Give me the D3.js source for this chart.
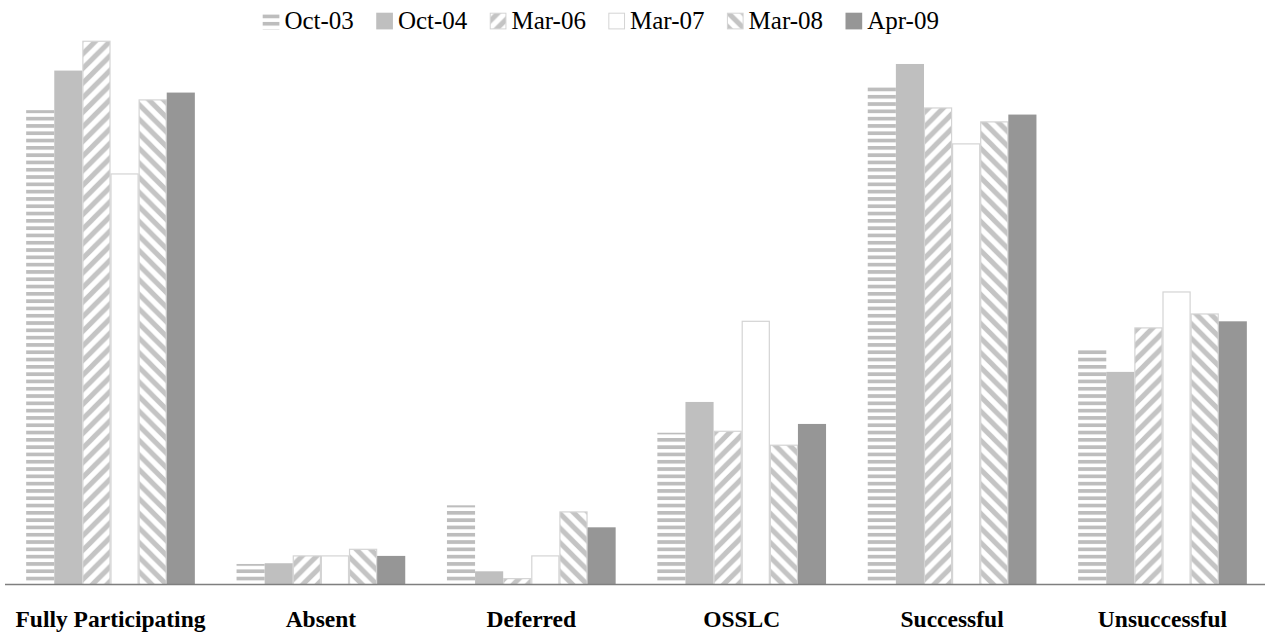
<!DOCTYPE html>
<html>
<head>
<meta charset="utf-8">
<script src="https://cdn.jsdelivr.net/npm/d3@7"></script>
<style>
  html, body { margin: 0; padding: 0; background: #ffffff; }
  svg { display: block; }
</style>
</head>
<body>
<svg id="chart" width="1265" height="632"></svg>
<script>
// Outcome categories and survey rounds (values are percentages)
const categories = ["Fully Participating", "Absent", "Deferred", "OSSLC", "Successful", "Unsuccessful"];
const seriesNames = ["Oct-03", "Oct-04", "Mar-06", "Mar-07", "Mar-08", "Apr-09"];

const oct03 = [64.7, 2.8, 10.8, 20.7, 67.9, 32.1];
const oct04 = [70.1, 2.9, 1.8, 24.9, 71.0, 29.0];
const mar06 = [74.1, 3.9, 0.8, 20.9, 65.0, 35.0];
const mar07 = [56.0, 3.9, 3.9, 35.9, 60.1, 39.9];
const mar08 = [66.1, 4.8, 9.9, 19.0, 63.1, 36.9];
const apr09 = [67.1, 3.9, 7.8, 21.9, 64.1, 35.9];

const seriesValues = [oct03, oct04, mar06, mar07, mar08, apr09];

const FONT = "'Liberation Serif', 'Times New Roman', serif";
const svg = d3.select("#chart");
const W = 1265, baseY = 584.5;

// ---- fill patterns ----
const defs = svg.append("defs");

const hz = defs.append("pattern").attr("id", "p-hstripe")
  .attr("patternUnits", "userSpaceOnUse").attr("width", 8).attr("height", 7.3);
hz.append("rect").attr("width", 8).attr("height", 7.3).attr("fill", "#ffffff");
hz.append("rect").attr("width", 8).attr("height", 3.7).attr("fill", "#bdbdbd");

function diag(id, up) {
  const s = 14.6;
  const p = defs.append("pattern").attr("id", id)
    .attr("patternUnits", "userSpaceOnUse").attr("width", s).attr("height", s);
  p.append("rect").attr("width", s).attr("height", s).attr("fill", "#ffffff");
  const d = up
    ? `M0,${s} L${s},0 M${-s/2},${s/2} L${s/2},${-s/2} M${s/2},${s*1.5} L${s*1.5},${s/2}`
    : `M0,0 L${s},${s} M${-s/2},${s/2} L${s/2},${s*1.5} M${s/2},${-s/2} L${s*1.5},${s/2}`;
  p.append("path").attr("d", d).attr("stroke", "#c4c4c4").attr("stroke-width", 5).attr("fill", "none");
}
diag("p-up", true);
diag("p-down", false);

const fills = ["url(#p-hstripe)", "#bfbfbf", "url(#p-up)", "#ffffff", "url(#p-down)", "#969696"];
const strokes = ["none", "none", "#d4d4d4", "#d4d4d4", "#d4d4d4", "none"];

// ---- scales ----
const x0 = d3.scaleBand().domain(categories).range([5.3, 1267.7]);
const x1 = d3.scaleBand().domain(seriesNames).range([20.85, 189.55]);
const y = d3.scaleLinear().domain([0, 80]).range([baseY, -2]);

// ---- bars ----
const groups = svg.append("g").selectAll("g")
  .data(categories)
  .join("g")
  .attr("transform", d => `translate(${x0(d)},0)`);

groups.selectAll("rect")
  .data((c, ci) => seriesNames.map((s, si) => ({ s, si, v: seriesValues[si][ci] })))
  .join("rect")
  .attr("x", d => x1(d.s) + (strokes[d.si] === "none" ? 0 : 0.5))
  .attr("width", d => x1.bandwidth() - (strokes[d.si] === "none" ? 0 : 1))
  .attr("y", d => y(d.v))
  .attr("height", d => baseY - y(d.v))
  .attr("fill", d => fills[d.si])
  .attr("stroke", d => strokes[d.si])
  .attr("stroke-width", 1.2);

// ---- category axis ----
svg.append("line")
  .attr("x1", 5).attr("x2", W)
  .attr("y1", baseY).attr("y2", baseY)
  .attr("stroke", "#7f7f7f").attr("stroke-width", 1.4);

svg.append("g").selectAll("text")
  .data(categories)
  .join("text")
  .attr("x", d => x0(d) + x0.bandwidth() / 2)
  .attr("y", 626.5)
  .attr("text-anchor", "middle")
  .attr("font-family", FONT)
  .attr("font-weight", "bold")
  .attr("font-size", 23.5)
  .attr("fill", "#000")
  .text(d => d);

// ---- legend ----
const legend = svg.append("g");
let lx = 262.7;
const sw = 16.7, swTop = 12.7;
seriesNames.forEach((name, i) => {
  legend.append("rect")
    .attr("x", lx + (strokes[i] === "none" ? 0 : 0.5))
    .attr("y", swTop + (strokes[i] === "none" ? 0 : 0.5))
    .attr("width", sw - (strokes[i] === "none" ? 0 : 1))
    .attr("height", sw - (strokes[i] === "none" ? 0 : 1))
    .attr("fill", fills[i])
    .attr("stroke", strokes[i])
    .attr("stroke-width", 1);
  const t = legend.append("text")
    .attr("x", lx + sw + 5)
    .attr("y", 29.3)
    .attr("font-family", FONT)
    .attr("font-size", 25)
    .attr("fill", "#000")
    .text(name);
  lx += sw + 5 + t.node().getComputedTextLength() + 22.4;
});
</script>
</body>
</html>
